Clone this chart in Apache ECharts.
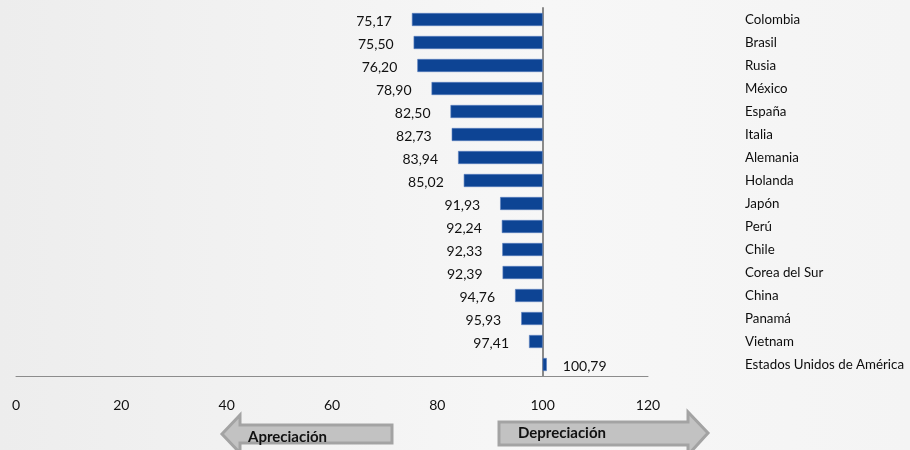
<!DOCTYPE html>
<html>
<head>
<meta charset="utf-8">
<script src="https://cdn.jsdelivr.net/npm/echarts@6/dist/echarts.min.js"></script>
<style>
html,body{margin:0;padding:0;}
#chart{width:910px;height:450px;}
</style>
</head>
<body>
<div id="chart"></div>
<script>
var countries = ["Colombia","Brasil","Rusia","México","España","Italia","Alemania","Holanda","Japón","Perú","Chile","Corea del Sur","China","Panamá","Vietnam","Estados Unidos de América"];
var values = [75.17,75.50,76.20,78.90,82.50,82.73,83.94,85.02,91.93,92.24,92.33,92.39,94.76,95.93,97.41,100.79];
var baseValue = 100;
var tickLabels = [0,20,40,60,80,100,120];

var chart = echarts.init(document.getElementById('chart'), null, {renderer:'canvas'});
var fmt = function(v){ return v.toFixed(2).replace('.', ','); };

var seriesData = values.map(function(v, i){
  var item = { value: v - baseValue, label: {} };
  if (v >= baseValue) {
    item.label = { position: 'right', distance: 16 };
  }
  return item;
});

var option = {
  animation: false,
  backgroundColor: {
    type: 'linear', x: 0, y: 0, x2: 1, y2: 0,
    colorStops: [{offset:0,color:'#ededed'},{offset:0.6,color:'#f7f7f7'},{offset:1,color:'#f4f4f4'}]
  },
  textStyle: { fontFamily: 'Lato' },
  grid: { left: 16, right: 262, top: 8, bottom: 74, containLabel: false },
  xAxis: {
    type: 'value', min: -100, max: 20, interval: 20,
    axisLine: { show: true, lineStyle: { color: '#8c8c8c', width: 1 } },
    axisTick: { show: false },
    splitLine: { show: false },
    axisLabel: {
      margin: 22, fontSize: 14, color: '#111', fontFamily: 'Lato',
      formatter: function(v){ return String(tickLabels[Math.round((v + 100) / 20)]); }
    }
  },
  yAxis: [{
    type: 'category', inverse: true, data: countries,
    axisLine: { show: true, onZero: true, lineStyle: { color: '#8a8a8a', width: 2 } },
    axisTick: { show: false },
    axisLabel: { show: false }
  },{
    type: 'category', inverse: true, data: countries, position: 'right', offset: 89,
    axisLine: { show: false }, axisTick: { show: false },
    axisLabel: { show: true, margin: 8, fontSize: 13.3, color: '#0d0d0d', fontFamily: 'Lato', align: 'left' }
  }],
  series: [{
    type: 'bar', yAxisIndex: 0, data: seriesData, barWidth: 13,
    itemStyle: { color: '#0d4494', borderColor: '#5a7fbf', borderWidth: 0.6 },
    label: {
      show: true, position: 'left', distance: 20, offset: [0, 2],
      fontSize: 14, color: '#111', fontFamily: 'Lato',
      formatter: function(p){ return fmt(values[p.dataIndex]); }
    }
  }],
  graphic: [
    { type: 'polygon', shape: { points: [[222,434],[240,415],[240,425],[392,425],[392,443],[240,443],[240,453]] },
      style: { fill: '#c2c2c2', stroke: '#a3a3a3', lineWidth: 3 } },
    { type: 'text', left: 248, top: 430, style: { text: 'Apreciación', font: 'bold 15px Lato', fill: '#111' } },
    { type: 'polygon', shape: { points: [[499,422],[688,422],[688,412],[708,433],[688,455],[688,445],[499,445]] },
      style: { fill: '#c2c2c2', stroke: '#a3a3a3', lineWidth: 3 } },
    { type: 'text', left: 518, top: 426, style: { text: 'Depreciación', font: 'bold 15px Lato', fill: '#111' } }
  ]
};
chart.setOption(option);
</script>
</body>
</html>
